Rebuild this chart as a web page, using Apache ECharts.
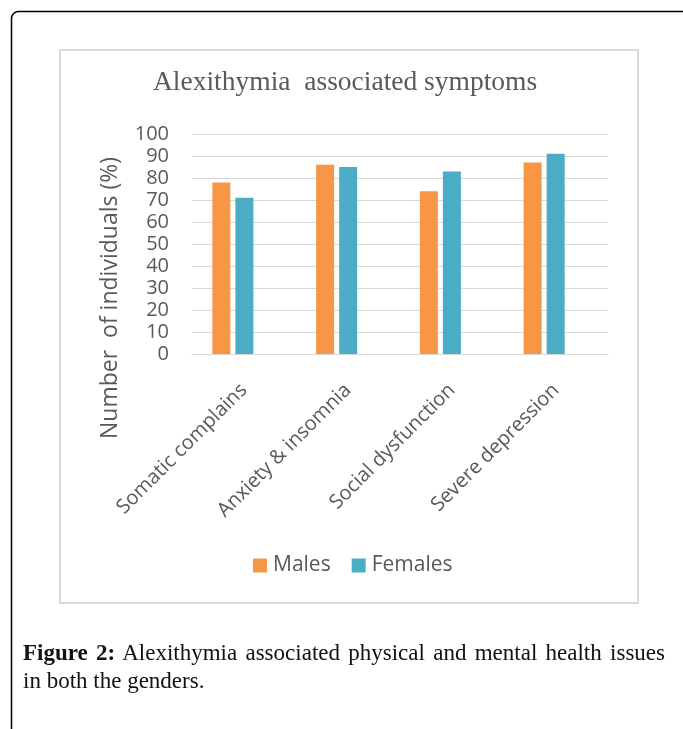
<!DOCTYPE html>
<html>
<head>
<meta charset="utf-8">
<script src="https://cdn.jsdelivr.net/npm/echarts@6/dist/echarts.min.js"></script>
<style>
html, body { margin: 0; padding: 0; background: #fff; }
#wrap { position: relative; width: 683px; height: 729px; overflow: hidden; }
#chart { position: absolute; left: 0; top: 0; width: 683px; height: 729px; }
#caption {
    position: absolute; left: 23px; top: 639px; width: 642px;
    font-family: "Liberation Serif", serif; font-size: 23px; line-height: 28px; color: #111;
}
#caption .l1 { white-space: nowrap; text-align: justify; text-align-last: justify; }
</style>
</head>
<body>
<div id="wrap">
    <div id="chart"></div>
    <div id="caption">
        <div class="l1"><b>Figure 2:</b> Alexithymia associated physical and mental health issues</div>
        <div>in both the genders.</div>
    </div>
</div>
<script>
var categories = ['Somatic complains', 'Anxiety & insomnia', 'Social dysfunction', 'Severe depression'];
var males = [78, 86, 74, 87];
var females = [71, 85, 83, 91];
var yTicks = { min: 0, max: 100, interval: 10 };

var myChart = echarts.init(document.getElementById('chart'));
var grayText = '#595959';
var sans = '"Open Sans", "Noto Sans", sans-serif';

var option = {
    animation: false,
    title: {
        text: 'Alexithymia  associated symptoms',
        left: 153,
        top: 69,
        padding: 0,
        textStyle: {
            fontFamily: '"Liberation Serif", serif',
            fontSize: 27.5,
            fontWeight: 'normal',
            color: grayText
        }
    },
    legend: {
        data: ['Males', 'Females'],
        left: 253,
        top: 555,
        padding: 0,
        itemWidth: 14,
        itemHeight: 14,
        itemGap: 21,
        icon: 'rect',
        textStyle: { fontFamily: sans, fontSize: 21, color: grayText, padding: [0, 0, 0, 1] }
    },
    grid: [
        // bars
        { left: 181, width: 415, top: 134, height: 220 },
        // gridlines + labels
        { left: 192, width: 416, top: 134, height: 220 }
    ],
    xAxis: [
        { type: 'category', gridIndex: 0, data: categories, show: false },
        {
            type: 'category', gridIndex: 1, data: categories,
            axisTick: { show: false },
            axisLine: { show: true, lineStyle: { color: '#d9d9d9', width: 1 } },
            axisLabel: {
                interval: 0,
                rotate: 45,
                margin: 33,
                fontFamily: sans,
                fontSize: 20,
                color: grayText
            }
        }
    ],
    yAxis: [
        { type: 'value', gridIndex: 0, min: yTicks.min, max: yTicks.max, interval: yTicks.interval, show: false },
        {
            type: 'value', gridIndex: 1,
            min: yTicks.min, max: yTicks.max, interval: yTicks.interval,
            axisLine: { show: false },
            axisTick: { show: false },
            splitLine: { lineStyle: { color: '#d9d9d9', width: 1 } },
            axisLabel: { margin: 23, fontFamily: sans, fontSize: 20, color: grayText }
        }
    ],
    series: [
        {
            name: 'Males', type: 'bar', xAxisIndex: 0, yAxisIndex: 0,
            barWidth: 18, barGap: '28%',
            itemStyle: { color: '#F79646' },
            data: males
        },
        {
            name: 'Females', type: 'bar', xAxisIndex: 0, yAxisIndex: 0,
            barWidth: 18, barGap: '28%',
            itemStyle: { color: '#4BACC6' },
            data: females
        }
    ],
    graphic: [
        {
            type: 'rect', silent: true, z: -10,
            shape: { x: 11.5, y: 11.5, width: 700, height: 800, r: 7 },
            style: { fill: 'none', stroke: '#000', lineWidth: 1.5 }
        },
        {
            type: 'rect', silent: true, z: -10,
            shape: { x: 60, y: 50, width: 578, height: 553 },
            style: { fill: 'none', stroke: '#d9d9d9', lineWidth: 2 }
        },
        {
            type: 'text', silent: true,
            x: 110, y: 298, rotation: Math.PI / 2,
            style: {
                text: 'Number  of individuals (%)',
                fontFamily: sans, fontSize: 23, fill: grayText,
                align: 'center', verticalAlign: 'middle'
            }
        }
    ]
};

option && myChart.setOption(option);
</script>
</body>
</html>
